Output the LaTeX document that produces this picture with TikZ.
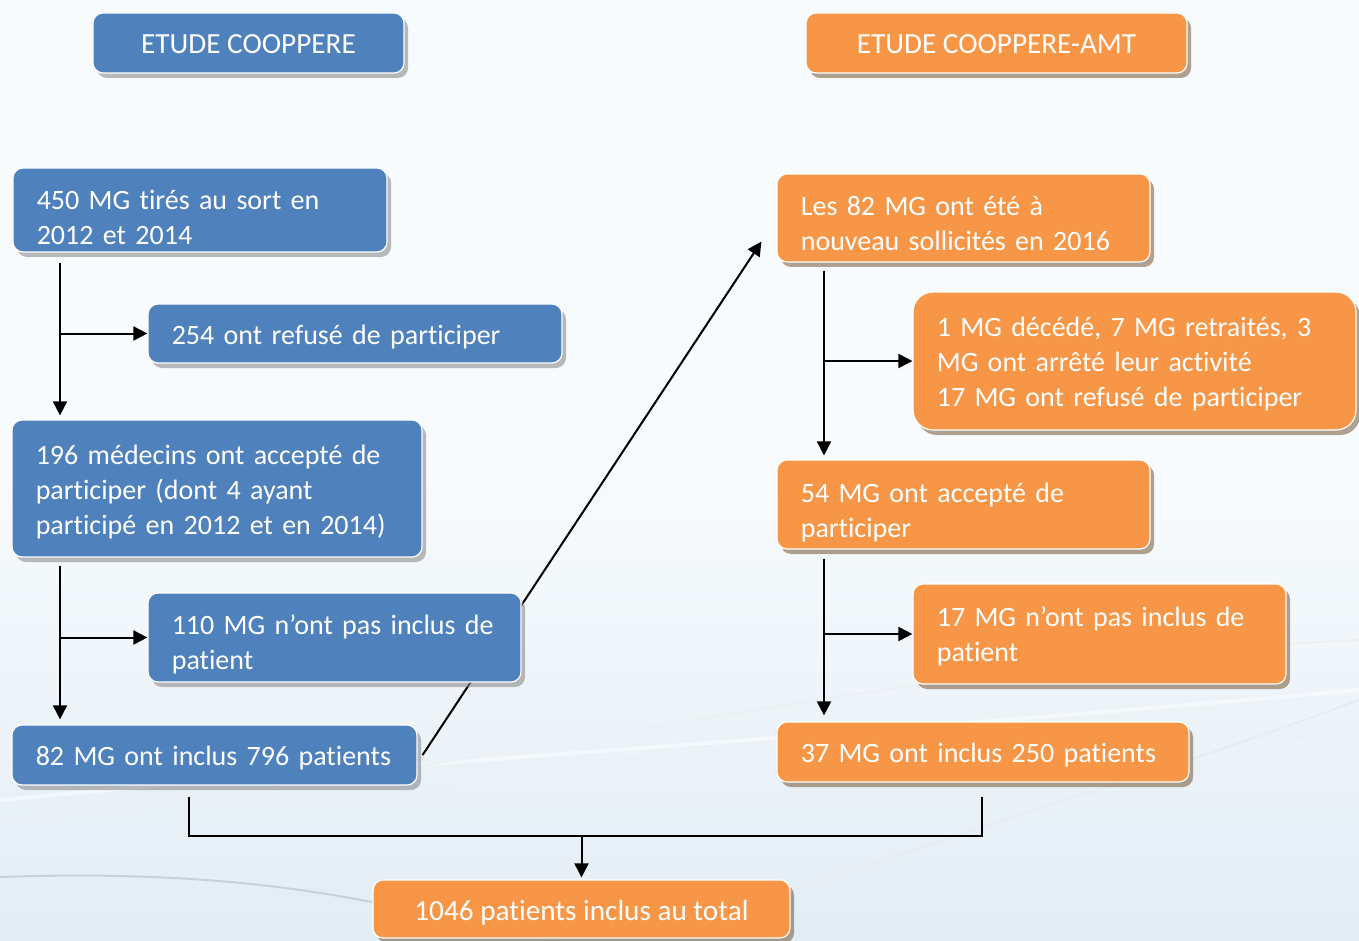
\documentclass[tikz,border=0pt]{standalone}
\usepackage{fontspec}
\setmainfont{Carlito}[Ligatures=NoCommon]
\usetikzlibrary{arrows.meta,shadows,calc}
\definecolor{cblue}{HTML}{4F81BD}
\definecolor{corange}{HTML}{F79646}
\definecolor{bgtop}{HTML}{F8FBFD}
\definecolor{bgbot}{HTML}{E2EDF4}
\definecolor{swoosh}{HTML}{9FB4C2}
\tikzset{
  basebox/.style={draw=white, line width=0.6pt, rounded corners=5pt, inner sep=0pt},
  bluebox/.style={basebox, fill=cblue, drop shadow={shadow xshift=2pt, shadow yshift=-2.5pt, fill=black!45, opacity=0.6}},
  orangebox/.style={basebox, fill=corange, drop shadow={shadow xshift=2pt, shadow yshift=-2.5pt, fill=black!45!brown, opacity=0.5}},
  txt/.style={text=white, font=\fontsize{14pt}{17.5pt}\selectfont, inner sep=0pt, align=left},
  ctxt/.style={text=white, font=\fontsize{14.6pt}{17.5pt}\selectfont, inner sep=0pt, align=center},
  arr/.style={line width=1pt, -{Triangle[length=7pt,width=7pt]}},
  conn/.style={line width=1pt},
}
% #1 box style, #2 name, #3 centre, #4 width, #5 height, #6 text width, #7 text drop, #8 text
\newcommand\flowbox[8]{%
  \node[#1, minimum width=#4, minimum height=#5] (#2) at (#3) {};
  \node[txt, text width=#6, anchor=west] (#2-t) at ([xshift=12pt,yshift=-#7]#2.west) {#8};}
\newcommand\titlebox[7]{%
  \node[#1, minimum width=#4, minimum height=#5] (#2) at (#3) {};
  \node[ctxt] (#2-t) at ([yshift=-#6]#2.center) {#7};}
\begin{document}
\begin{tikzpicture}[x=0.5pt,y=-0.5pt]
\useasboundingbox (0,0) rectangle (1359,941);
\shade[top color=bgtop, bottom color=bgbot, middle color=bgtop] (0,0) rectangle (1359,941);
% faint background swooshes
\draw[swoosh!60, line width=1pt] (0,877) .. controls (200,870) and (320,890) .. (420,912);
\draw[swoosh!35, line width=1pt] (420,912) .. controls (480,930) and (520,940) .. (560,941);
\draw[white, line width=2pt, opacity=0.5] (0,800) .. controls (300,770) and (800,740) .. (1359,690);
\draw[swoosh!20, line width=1pt] (0,820) .. controls (400,790) and (900,660) .. (1359,640);
\draw[swoosh!25, line width=1pt] (760,900) .. controls (1000,820) and (1200,760) .. (1359,700);
\draw[swoosh!20, line width=1pt] (420,790) .. controls (700,740) and (1000,720) .. (1359,740);

\coordinate (lx) at (60,0);
\coordinate (rx) at (824,0);
\coordinate (bx) at (189,0);
\coordinate (ex) at (982,0);
\coordinate (jy) at (0,836);

% boxes touched by the diagonal connector
\flowbox{bluebox}{b5}{214.5,755}{202.5pt}{30pt}{178.5pt}{1.5pt}{82 MG ont inclus 796 patients}
\flowbox{orangebox}{o1}{963.5,218}{186.5pt}{44pt}{162.5pt}{3pt}{Les 82 MG ont été à\\nouveau sollicités en 2016}
\draw[arr] ([xshift=2.5pt]b5.east) -- ([xshift=-7.5pt,yshift=10.5pt]o1.south west);

\titlebox{bluebox}{t1}{248.5,43}{155.5pt}{30pt}{0.5pt}{ETUDE COOPPERE}
\titlebox{orangebox}{t2}{996.5,43}{190.5pt}{30pt}{0.5pt}{ETUDE COOPPERE-AMT}

\flowbox{bluebox}{b1}{200,210}{187pt}{42pt}{163pt}{3.5pt}{450 MG tirés au sort en\\2012 et 2014}
\flowbox{bluebox}{b2}{355,333.5}{207pt}{29.5pt}{183pt}{2pt}{254 ont refusé de participer}
\flowbox{bluebox}{b3}{217,488.5}{205pt}{68.5pt}{181pt}{2pt}{196 médecins ont accepté de\\participer (dont 4 ayant\\participé en 2012 et en 2014)}
\flowbox{bluebox}{b4}{334.5,637.5}{186.5pt}{44.5pt}{162.5pt}{3.5pt}{110 MG n’ont pas inclus de\\patient}

\flowbox{orangebox, rounded corners=10pt}{o2}{1134.5,361}{221.5pt}{69pt}{196.5pt}{1.5pt}{1 MG décédé, 7 MG retraités, 3\\MG ont arrêté leur activité\\17 MG ont refusé de participer}
\flowbox{orangebox}{o3}{963.5,504.5}{186.5pt}{44.5pt}{162.5pt}{4pt}{54 MG ont accepté de\\participer}
\flowbox{orangebox}{o4}{1099.5,634}{186.5pt}{50pt}{162.5pt}{1pt}{17 MG n’ont pas inclus de\\patient}
\flowbox{orangebox}{o5}{983,752}{206pt}{30pt}{182pt}{1.5pt}{37 MG ont inclus 250 patients}
\titlebox{orangebox}{tot}{581.5,909}{208.5pt}{29pt}{2pt}{1046 patients inclus au total}

% left flow
\draw[arr] ([yshift=-5pt]b1.south -| lx) -- ([yshift=2pt]b3.north -| lx);
\draw[arr] (lx |- b2.west) -- (b2.west);
\draw[arr] ([yshift=-4pt]b3.south -| lx) -- ([yshift=2.5pt]b5.north -| lx);
\draw[arr] (lx |- b4.west) -- (b4.west);
% right flow
\draw[arr] ([yshift=-4pt]o1.south -| rx) -- ([yshift=2pt]o3.north -| rx);
\draw[arr] (rx |- o2.west) -- (o2.west);
\draw[arr] ([yshift=-4.5pt]o3.south -| rx) -- ([yshift=3pt]o5.north -| rx);
\draw[arr] (rx |- o4.west) -- (o4.west);
% merge
\draw[conn] ([yshift=-5.5pt]b5.south -| bx) |- (ex |- jy) -- ([yshift=-7pt]o5.south -| ex);
\draw[arr] (tot.north |- jy) -- ([yshift=1pt]tot.north);
\end{tikzpicture}
\end{document}
